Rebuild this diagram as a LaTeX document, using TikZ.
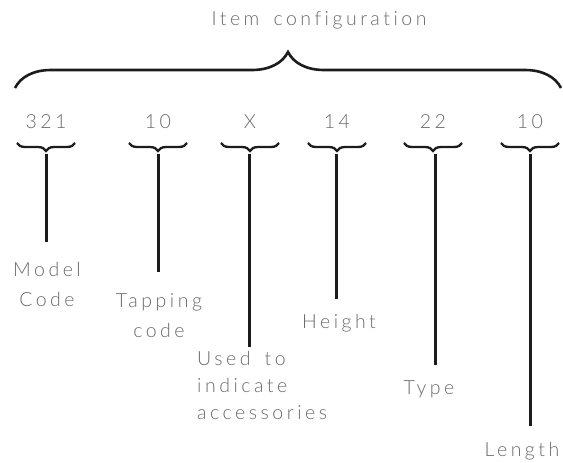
\documentclass[tikz,border=0pt]{standalone}
\usepackage{fontspec}
\setmainfont{Lato Light}[LetterSpace=18, WordSpace=1.6, Ligatures={NoCommon}]
\usetikzlibrary{decorations.pathreplacing}
\definecolor{txtgray}{HTML}{6A6A6A}
\definecolor{ink}{HTML}{1C1C1C}

\begin{document}
\begin{tikzpicture}[x=1pt, y=-1pt,
   every node/.style={text=txtgray, inner sep=0pt, anchor=base,
                      font=\fontsize{19.5}{30}\selectfont},
   lbl/.style={align=center},
   bigbrace/.style={draw=ink, line width=2.6pt, decorate,
                    decoration={brace, amplitude=36pt}},
   smallbrace/.style={draw=ink, line width=2.3pt, decorate,
                      decoration={brace, mirror, amplitude=8pt}},
   stem/.style={draw=ink, line width=3pt}]

\useasboundingbox (0,0) rectangle (563,463);

\node (title) at (319,26) {Item configuration};
\draw[bigbrace] (15,88) -- (561,88);

% digits of the item code
\node (n1) at (46,128) {321};
\node (n2) at (158,128) {10};
\node (n3) at (250,128) {X};
\node (n4) at (337,128) {14};
\node (n5) at (433,128) {22};
\node (n6) at (530,128) {10};

% what each group stands for (base = last line)
\node[lbl] (model)  at (47,306)  {Model\\Code};
\node[lbl] (tap)    at (159,337) {Tapping\\code};
\node[lbl, align=left, anchor=base west, font=\fontsize{19.5}{27}\selectfont]
   (acc) at (197,419) {Used to\\indicate\\accessories};
\node (height) at (339,328) {Height};
\node (type)   at (429,394) {Type};
\node (length) at (522,456) {Length};

\coordinate (e1) at (46,242);
\coordinate (e2) at (158,272);
\coordinate (e3) at (249,347);
\coordinate (e4) at (336,299);
\coordinate (e5) at (435,365);
\coordinate (e6) at (530,426);

\foreach \i in {1,...,6}{
  \draw[smallbrace] ([xshift=-29pt]n\i.center |- 0,143) -- ([xshift=29pt]n\i.center |- 0,143);
  \draw[stem] (e\i |- 0,154) -- (e\i);
}

\end{tikzpicture}
\end{document}
